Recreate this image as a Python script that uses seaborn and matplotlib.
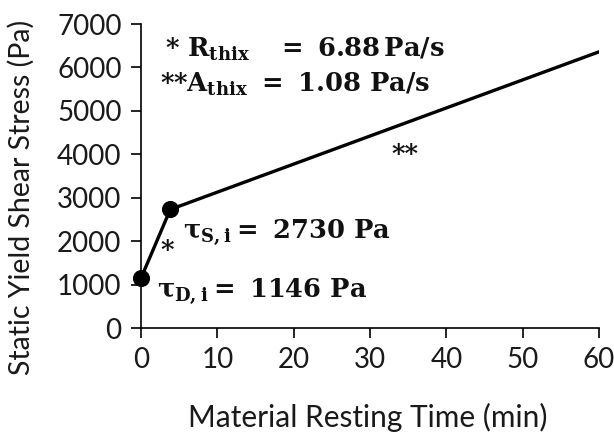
import matplotlib
matplotlib.use("Agg")
import matplotlib.pyplot as plt
import seaborn as sns
import pandas as pd

# ─── Data ────────────────────────────────────────────────────────────────────
rest_time = [0, 3.84, 60]          # min
yield_stress = [1146, 2730, 6360]  # Pa
marked_time = [0, 3.84]
marked_stress = [1146, 2730]

x_ticks = [0, 10, 20, 30, 40, 50, 60]
y_ticks = [0, 1000, 2000, 3000, 4000, 5000, 6000, 7000]

# ─── Style ───────────────────────────────────────────────────────────────────
sns.set_style("ticks")
plt.rcParams["font.family"] = ["Lato", "DejaVu Sans"]
plt.rcParams["mathtext.fontset"] = "custom"
plt.rcParams["mathtext.rm"] = "DejaVu Serif:bold"
plt.rcParams["mathtext.it"] = "DejaVu Serif:bold"
plt.rcParams["mathtext.bf"] = "DejaVu Serif:bold"

df = pd.DataFrame({"t": rest_time, "s": yield_stress})
pts = pd.DataFrame({"t": marked_time, "s": marked_stress})

fig = plt.figure(figsize=(6.14, 4.32), dpi=100)
ax = fig.add_axes([0.2296, 0.2407, 0.746, 0.7037])

sns.lineplot(data=df, x="t", y="s", ax=ax, color="black", lw=2.4)
sns.scatterplot(data=pts, x="t", y="s", ax=ax, color="black", s=130,
                edgecolor="black", zorder=3, clip_on=False)

ax.set_xlim(0, 60)
ax.set_ylim(0, 7000)
ax.set_xticks(x_ticks)
ax.set_yticks(y_ticks)
ax.tick_params(labelsize=20, length=7, width=1.2, color="black",
               labelcolor="#1a1a1a", pad=7)
for sp in ["left", "bottom"]:
    ax.spines[sp].set_linewidth(1.2)
    ax.spines[sp].set_color("black")
sns.despine(ax=ax)

ax.set_xlabel("Material Resting Time (min)", fontsize=21.5, color="#1a1a1a")
ax.set_ylabel("Static Yield Shear Stress (Pa)", fontsize=20.5, color="#1a1a1a")
ax.xaxis.set_label_coords(0.496, -0.245)
ax.yaxis.set_label_coords(-0.232, 0.43)

# ─── Annotations ─────────────────────────────────────────────────────────────
fs = 18.5
tk = dict(fontsize=fs, family="DejaVu Serif", fontweight="bold", color="#111111")
ax.text(3.1, 6241, r"* $R_{thix}\ \ \ =\ 6.88\,Pa/s$", va="baseline", **tk)
ax.text(2.5, 5435, r"**$A_{thix}\ =\ 1.08\ Pa/s$", va="baseline", **tk)
ax.text(5.5, 2073, r"$\tau_{S,i} =\ 2730\ Pa$", va="baseline", **tk)
ax.text(2.1, 714, r"$\tau_{D,i} =\ 1146\ Pa$", va="baseline", **tk)
ax.text(3.4, 1796, "*", va="center", ha="center", **tk)
ax.text(34.6, 3984, "**", va="center", ha="center", **tk)

fig.savefig("out.png", dpi=100)
